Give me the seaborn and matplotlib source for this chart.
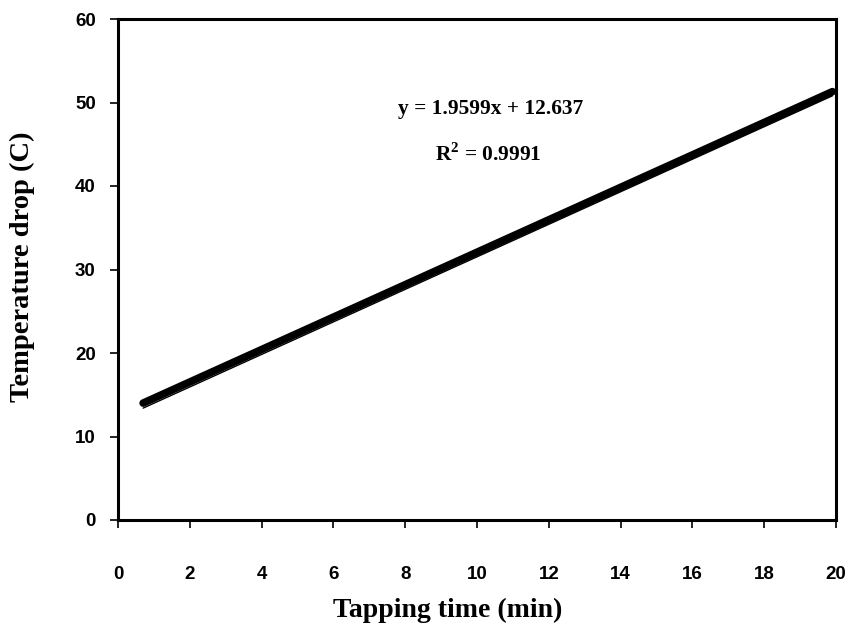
import matplotlib
matplotlib.use("Agg")
import matplotlib.pyplot as plt
import seaborn as sns
import pandas as pd

# Data
tap_time = [0.7, 19.9]
temp_drop = [14.0, 51.3]
trend_x = [0.7, 19.9]
trend_y = [13.4, 50.8]
equation = "y = 1.9599x + 12.637"
r2_text = "R$^{\\mathbf{2}}$ = 0.9991"
x_ticks = list(range(0, 21, 2))
y_ticks = list(range(0, 61, 10))

sns.set_style("white")
plt.rcParams['font.family'] = ['Liberation Sans', 'DejaVu Sans']
plt.rcParams['text.color'] = 'black'
plt.rcParams['axes.labelcolor'] = 'black'
plt.rcParams['mathtext.fontset'] = 'custom'
plt.rcParams['mathtext.rm'] = 'Liberation Serif:bold'
plt.rcParams['mathtext.bf'] = 'Liberation Serif:bold'

fig = plt.figure(figsize=(8.51, 6.32), dpi=100)
ax = fig.add_axes([118/851, 1 - 520/632, (836-118)/851, (520-19)/632])

df = pd.DataFrame({"x": tap_time, "y": temp_drop})
tr = pd.DataFrame({"x": trend_x, "y": trend_y})
sns.lineplot(data=tr, x="x", y="y", ax=ax, color="black", linewidth=1.0)
sns.lineplot(data=df, x="x", y="y", ax=ax, color="black", linewidth=5.5,
             solid_capstyle="round")

ax.set_xlim(0, 20)
ax.set_ylim(0, 60)
ax.set_xticks(x_ticks)
ax.set_yticks(y_ticks)
ax.tick_params(axis="both", direction="out", length=6, width=1.2,
               labelsize=13.5, colors="black", bottom=True, left=True)
ax.tick_params(axis="x", pad=27)
ax.tick_params(axis="y", pad=10)
for lab in ax.get_xticklabels() + ax.get_yticklabels():
    lab.set_fontweight("bold")
for s in ax.spines.values():
    s.set_visible(True)
    s.set_color("black")
    s.set_linewidth(2.2)

ax.set_xlabel("Tapping time (min)", family=["Liberation Serif"],
              fontweight="bold", fontsize=20, color="black")
ax.set_ylabel("Temperature drop (C)", family=["Liberation Serif"],
              fontweight="bold", fontsize=20.5, color="black")
ax.xaxis.label.set_va("center")
ax.yaxis.label.set_va("center")
ax.xaxis.set_label_coords((448 - 118) / 718, (520 - 610) / 501)
ax.yaxis.set_label_coords((22 - 118) / 718, (520 - 267) / 501)

ax.text(10.39, 49.2, equation, family=["Liberation Serif"], fontweight="bold",
        fontsize=15.4, ha="center", va="center", color="black")
ax.text(10.31, 43.8, r2_text, family=["Liberation Serif"], fontweight="bold",
        fontsize=15.4, ha="center", va="center", color="black")

fig.savefig("out.png", dpi=100)
